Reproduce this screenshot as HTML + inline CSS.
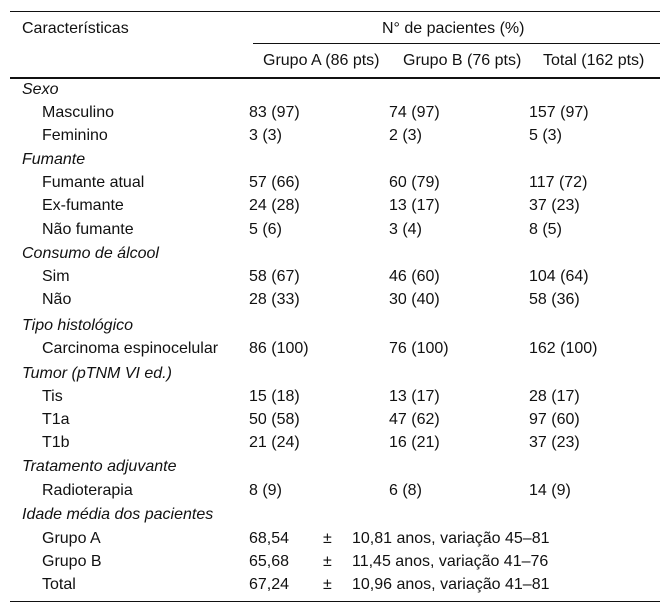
<!DOCTYPE html>
<html><head><meta charset="utf-8">
<style>
body{margin:0;background:#fff;width:670px;height:613px;position:relative;font-family:"Liberation Sans",Arial,sans-serif;font-size:16px;color:#111;overflow:hidden}
.t{position:absolute;white-space:nowrap;line-height:18px}
.i{font-style:italic}
.ln{position:absolute;background:#111;height:1px}
</style></head><body>
<div class="ln" style="left:10px;top:11px;width:650px"></div>
<div class="ln" style="left:253px;top:43px;width:407px"></div>
<div class="ln" style="left:10px;top:77px;width:650px;height:2px"></div>
<div class="ln" style="left:10px;top:601px;width:650px"></div>
<div class="t" style="left:22px;top:20px">Características</div>
<div class="t" style="left:382px;top:20px">N° de pacientes (%)</div>
<div class="t" style="left:263px;top:52px">Grupo A (86 pts)</div>
<div class="t" style="left:403px;top:52px">Grupo B (76 pts)</div>
<div class="t" style="left:543px;top:52px">Total (162 pts)</div>
<div id="rows"></div>
<script>
const rows=[
[89,'s','Sexo'],[112,'r','Masculino','83 (97)','74 (97)','157 (97)'],[135,'r','Feminino','3 (3)','2 (3)','5 (3)'],
[159,'s','Fumante'],[182,'r','Fumante atual','57 (66)','60 (79)','117 (72)'],[205,'r','Ex-fumante','24 (28)','13 (17)','37 (23)'],[229,'r','Não fumante','5 (6)','3 (4)','8 (5)'],
[253,'s','Consumo de álcool'],[276,'r','Sim','58 (67)','46 (60)','104 (64)'],[299,'r','Não','28 (33)','30 (40)','58 (36)'],
[325,'s','Tipo histológico'],[348,'r','Carcinoma espinocelular','86 (100)','76 (100)','162 (100)'],
[373,'s','Tumor (pTNM VI ed.)'],[396,'r','Tis','15 (18)','13 (17)','28 (17)'],[419,'r','T1a','50 (58)','47 (62)','97 (60)'],[442,'r','T1b','21 (24)','16 (21)','37 (23)'],
[466,'s','Tratamento adjuvante'],[490,'r','Radioterapia','8 (9)','6 (8)','14 (9)'],
[514,'s','Idade média dos pacientes'],[538,'a','Grupo A','68,54','10,81 anos, variação 45–81'],[561,'a','Grupo B','65,68','11,45 anos, variação 41–76'],[584,'a','Total','67,24','10,96 anos, variação 41–81']];
const c=document.getElementById('rows');
function add(x,y,txt,cls,name){const d=document.createElement('div');d.className='t '+(cls||'');d.style.left=x+'px';d.style.top=(y-8)+'px';d.textContent=txt;


c.appendChild(d);}
rows.forEach(r=>{const y=r[0];
if(r[1]==='s'){add(22,y,r[2],'i','section-label');}
else if(r[1]==='r'){add(42,y,r[2],'','row-label');add(249,y,r[3],'','grupo-a-value');add(389,y,r[4],'','grupo-b-value');add(529,y,r[5],'','total-value');}
else{add(42,y,r[2],'','row-label');add(249,y,r[3],'','mean-age');add(323,y,'±','','plus-minus');add(352,y,r[4],'','age-sd-range');}
});
</script>
</body></html>
